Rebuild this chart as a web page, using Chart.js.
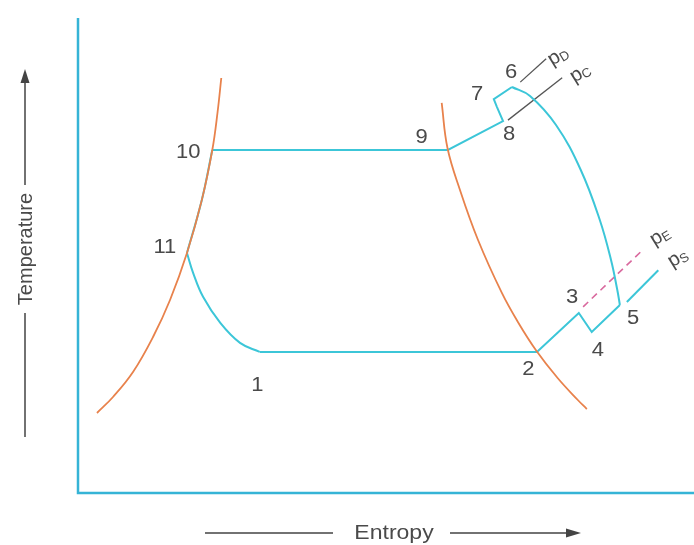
<!DOCTYPE html>
<html>
<head>
<meta charset="utf-8">
<script src="https://cdn.jsdelivr.net/npm/chart.js@4"></script>
<style>
  html, body { margin: 0; padding: 0; background: #fff; }
  canvas { display: block; }
</style>
</head>
<body>
<canvas id="tsChart" width="694" height="545"></canvas>
<script>
// T-s diagram, entropy (x) and temperature (y) in arbitrary 0-100 units

// saturation dome
const liquidS = [3.08, 5.68, 8.93, 12.18, 14.94, 17.69, 20.10, 21.80, 22.66, 23.26];
const liquidT = [16.84, 20.21, 25.47, 32.84, 40.63, 50.53, 61.68, 72.21, 80.21, 87.37];
const vapourS = [59.04, 59.98, 62.01, 64.94, 68.81, 71.41, 74.32, 77.86, 81.14, 82.60];
const vapourT = [82.11, 72.63, 63.79, 53.26, 42.11, 36.00, 30.11, 24.21, 19.58, 17.68];

// cycle, straight parts
const upperS = [21.80, 60.05, 69.0, 68.0, 67.5, 70.45]; // 10-9-8-7-6
const upperT = [72.21, 72.21, 78.3, 81.3, 82.9, 85.47];
const lowerS = [29.5, 74.5, 81.3, 83.4, 87.97];         // 1-2-3-4-5
const lowerT = [29.7, 29.7, 37.9, 33.9, 39.58];

// cycle, curved parts
const expandS = [70.45, 73.38, 77.6, 81.62, 84.71, 86.53, 87.55, 87.97]; // 6 -> 5
const expandT = [85.47, 83.58, 77.47, 68.0, 57.47, 49.05, 42.74, 39.58];
const returnS = [17.69, 18.7, 20.3, 23.1, 26.3, 29.5];                   // 11 -> 1
const returnT = [50.53, 46.3, 41.3, 35.8, 31.6, 29.7];
const riseS = [17.69, 20.10, 21.80];                                     // 11 -> 10
const riseT = [50.53, 61.68, 72.21];

// pressure lines
const psS = [89.1, 94.2], psT = [40.2, 46.9];
const peS = [82.0, 91.7], peT = [39.2, 51.2];
const pcS = [69.8, 78.6], pcT = [78.5, 87.4];
const pdS = [71.8, 76.0], pdT = [86.5, 91.4];

// labels
const pointNames = ['1', '2', '3', '4', '5', '6', '7', '8', '9', '10', '11'];
const nameS = [29.1, 73.1, 80.2, 84.4, 90.1, 70.3, 64.8, 70.0, 55.8, 17.9, 14.1];
const nameT = [22.7, 25.9, 41.1, 30.1, 36.8, 88.6, 84.0, 75.4, 74.9, 71.6, 51.6];
const pressNames = ['D', 'C', 'E', 'S'];
const pressS = [77.9, 81.5, 94.5, 97.4];
const pressT = [92.0, 88.4, 54.1, 49.5];

const cyan = '#3cc6d8';
const orange = '#e8824c';
const textColor = '#4a4a4a';
const font = '"Liberation Sans", Arial, Helvetica, sans-serif';

function pts(s, t) {
    return s.map((v, i) => ({ x: v, y: t[i] }));
}

function line(s, t, color, width, curved, dash) {
    return {
        data: pts(s, t),
        showLine: true,
        borderColor: color,
        borderWidth: width,
        borderDash: dash || [],
        pointRadius: 0,
        tension: curved ? 0.4 : 0,
        fill: false,
        clip: false
    };
}

const drawings = {
    id: 'drawings',
    beforeDatasetsDraw(chart) {
        const { ctx, chartArea: a } = chart;
        ctx.save();
        ctx.strokeStyle = '#35b4d6';
        ctx.lineWidth = 2.5;
        ctx.beginPath();
        ctx.moveTo(a.left, a.top);
        ctx.lineTo(a.left, a.bottom);
        ctx.lineTo(a.right, a.bottom);
        ctx.stroke();

        // axis titles with arrows
        ctx.strokeStyle = '#444';
        ctx.fillStyle = '#444';
        ctx.lineWidth = 1.5;
        // temperature
        ctx.beginPath();
        ctx.moveTo(25, 185); ctx.lineTo(25, 80);
        ctx.moveTo(25, 313); ctx.lineTo(25, 437);
        ctx.stroke();
        ctx.beginPath();
        ctx.moveTo(25, 69); ctx.lineTo(20.5, 83); ctx.lineTo(29.5, 83); ctx.closePath();
        ctx.fill();
        // entropy
        ctx.beginPath();
        ctx.moveTo(205, 533); ctx.lineTo(333, 533);
        ctx.moveTo(450, 533); ctx.lineTo(568, 533);
        ctx.stroke();
        ctx.beginPath();
        ctx.moveTo(581, 533); ctx.lineTo(566, 528.5); ctx.lineTo(566, 537.5); ctx.closePath();
        ctx.fill();

        ctx.fillStyle = textColor;
        ctx.textAlign = 'center';
        ctx.textBaseline = 'middle';
        ctx.font = '20px ' + font;
        ctx.save();
        ctx.translate(25, 249);
        ctx.rotate(-Math.PI / 2);
        ctx.fillText('Temperature', 0, 1);
        ctx.restore();
        ctx.save();
        ctx.translate(394, 533);
        ctx.scale(1.15, 1);
        ctx.fillText('Entropy', 0, 0);
        ctx.restore();
        ctx.restore();
    },
    afterDatasetsDraw(chart) {
        const { ctx, scales: { x, y } } = chart;
        ctx.save();
        ctx.fillStyle = textColor;
        ctx.textAlign = 'center';
        ctx.textBaseline = 'middle';
        ctx.font = '20px ' + font;
        pointNames.forEach((n, i) => {
            ctx.save();
            ctx.translate(x.getPixelForValue(nameS[i]), y.getPixelForValue(nameT[i]));
            ctx.scale(1.1, 1);
            ctx.fillText(n, 0, 0);
            ctx.restore();
        });
        pressNames.forEach((n, i) => {
            ctx.save();
            ctx.translate(x.getPixelForValue(pressS[i]), y.getPixelForValue(pressT[i]));
            ctx.rotate(-0.55);
            ctx.textAlign = 'left';
            ctx.font = '20px ' + font;
            ctx.fillText('p', -10, 0);
            ctx.font = '13px ' + font;
            ctx.fillText(n, 1, 4);
            ctx.restore();
        });
        ctx.restore();
    }
};

new Chart(document.getElementById('tsChart'), {
    type: 'scatter',
    data: {
        datasets: [
            line(liquidS, liquidT, orange, 1.8, true),
            line(vapourS, vapourT, orange, 1.8, true),
            line(upperS, upperT, cyan, 2, false),
            line(lowerS, lowerT, cyan, 2, false),
            line(expandS, expandT, cyan, 2, true),
            line(returnS, returnT, cyan, 2, true),
            line(riseS, riseT, cyan, 2, true),
            line(psS, psT, cyan, 2, false),
            line(peS, peT, '#d9699e', 1.6, false, [7, 5]),
            line(pcS, pcT, '#555', 1.3, false),
            line(pdS, pdT, '#555', 1.3, false)
        ]
    },
    options: {
        responsive: false,
        animation: false,
        devicePixelRatio: 1,
        layout: { padding: { left: 78, right: 0, top: 18, bottom: 52 } },
        scales: {
            x: { type: 'linear', min: 0, max: 100, display: false },
            y: { type: 'linear', min: 0, max: 100, display: false }
        },
        plugins: {
            legend: { display: false },
            tooltip: { enabled: false }
        }
    },
    plugins: [drawings]
});
</script>
</body>
</html>
